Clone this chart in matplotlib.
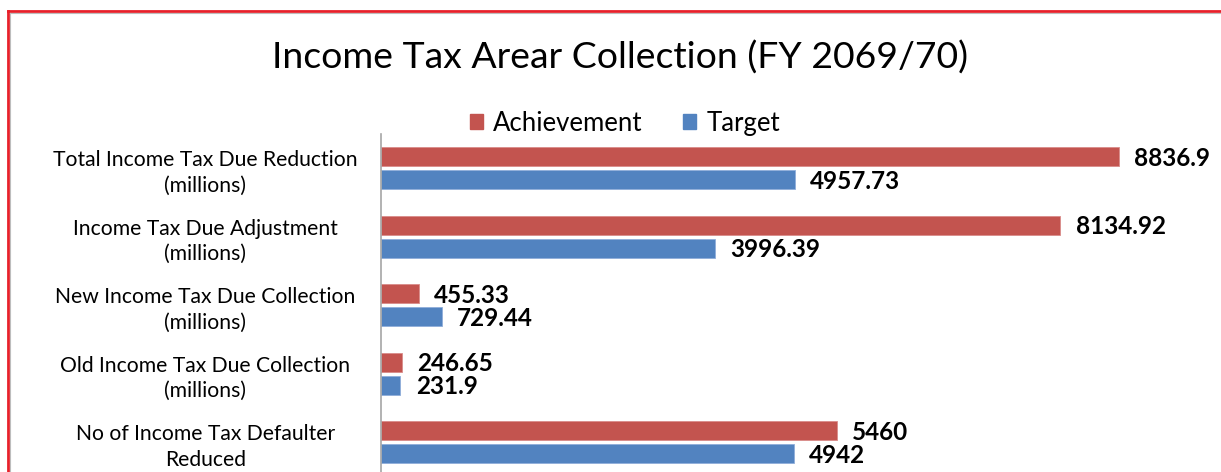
import matplotlib.pyplot as plt
from matplotlib.patches import Rectangle
from matplotlib.lines import Line2D

plt.rcParams['font.family'] = ['Lato', 'DejaVu Sans']

categories = ["Total Income Tax Due Reduction\n(millions)",
              "Income Tax Due Adjustment\n(millions)",
              "New Income Tax Due Collection\n(millions)",
              "Old Income Tax Due Collection\n(millions)",
              "No of Income Tax Defaulter\nReduced"]
achievement = [8836.9, 8134.92, 455.33, 246.65, 5460]
target = [4957.73, 3996.39, 729.44, 231.9, 4942]
ach_labels = ["8836.9", "8134.92", "455.33", "246.65", "5460"]
tgt_labels = ["4957.73", "3996.39", "729.44", "231.9", "4942"]

W, H = 1221, 472
fig = plt.figure(figsize=(W / 100, H / 100), dpi=100)

# axes placed in pixel terms; bottom runs past the picture like the source crop
left, top, right = 381, 134, 381 + 738 / 8836.9 * 10000
bottom = top + 5 * 68.5
ax = fig.add_axes([left / W, 1 - bottom / H, (right - left) / W, (bottom - top) / H])
ax.set_xlim(0, 10000)
ax.set_ylim(4.5, -0.5)

red = '#C3544F'
blue = '#5283C0'
h = 0.277
off = 0.168
ys = list(range(len(categories)))
ax.barh([y - off for y in ys], achievement, height=h, color=red,
        edgecolor='#D98C8A', linewidth=0.6, label='Achievement')
ax.barh([y + off for y in ys], target, height=h, color=blue,
        edgecolor='#8FAEDA', linewidth=0.6, label='Target')

for y, v, s in zip(ys, achievement, ach_labels):
    ax.annotate(s, (v, y - off), xytext=(11, -1), textcoords='offset points',
                ha='left', va='center', fontsize=17.5, fontweight='bold')
for y, v, s in zip(ys, target, tgt_labels):
    ax.annotate(s, (v, y + off), xytext=(11, -1), textcoords='offset points',
                ha='left', va='center', fontsize=17.5, fontweight='bold')

ax.set_yticks(ys)
ax.set_yticklabels(categories, fontsize=15.2, ha='center', linespacing=1.35)
ax.tick_params(axis='y', length=0, pad=126.5)
ax.set_xticks([])
for sp in ['top', 'right', 'bottom']:
    ax.spines[sp].set_visible(False)
ax.spines['left'].set_color('#A6A6A6')
ax.spines['left'].set_linewidth(1.2)

fig.text(620 / W, 1 - 58 / H, "Income Tax Arear Collection (FY 2069/70)",
         ha='center', va='center', fontsize=26.9)

handles = [Rectangle((0, 0), 1, 1, color=red), Rectangle((0, 0), 1, 1, color=blue)]
fig.legend(handles, ['Achievement', 'Target'], loc='center',
           bbox_to_anchor=(625 / W, 1 - 123 / H), ncol=2, frameon=False,
           fontsize=18.5, handlelength=0.5, handleheight=0.5, handletextpad=0.4,
           columnspacing=1.6)

# red frame of the original slide (only the top and left edges are in view)
fig.add_artist(Line2D([8 / W, 1], [1 - 11 / H, 1 - 11 / H], color='#E8202A', lw=2,
                      transform=fig.transFigure))
fig.add_artist(Line2D([8 / W, 8 / W], [0, 1 - 11 / H], color='#E8202A', lw=2,
                      transform=fig.transFigure))
fig.add_artist(Line2D([10 / W, 1], [1 - 13 / H, 1 - 13 / H], color='#BDBDBD', lw=0.8,
                      transform=fig.transFigure))
fig.add_artist(Line2D([10 / W, 10 / W], [0, 1 - 13 / H], color='#BDBDBD', lw=0.8,
                      transform=fig.transFigure))

fig.savefig('out.png', dpi=100)
